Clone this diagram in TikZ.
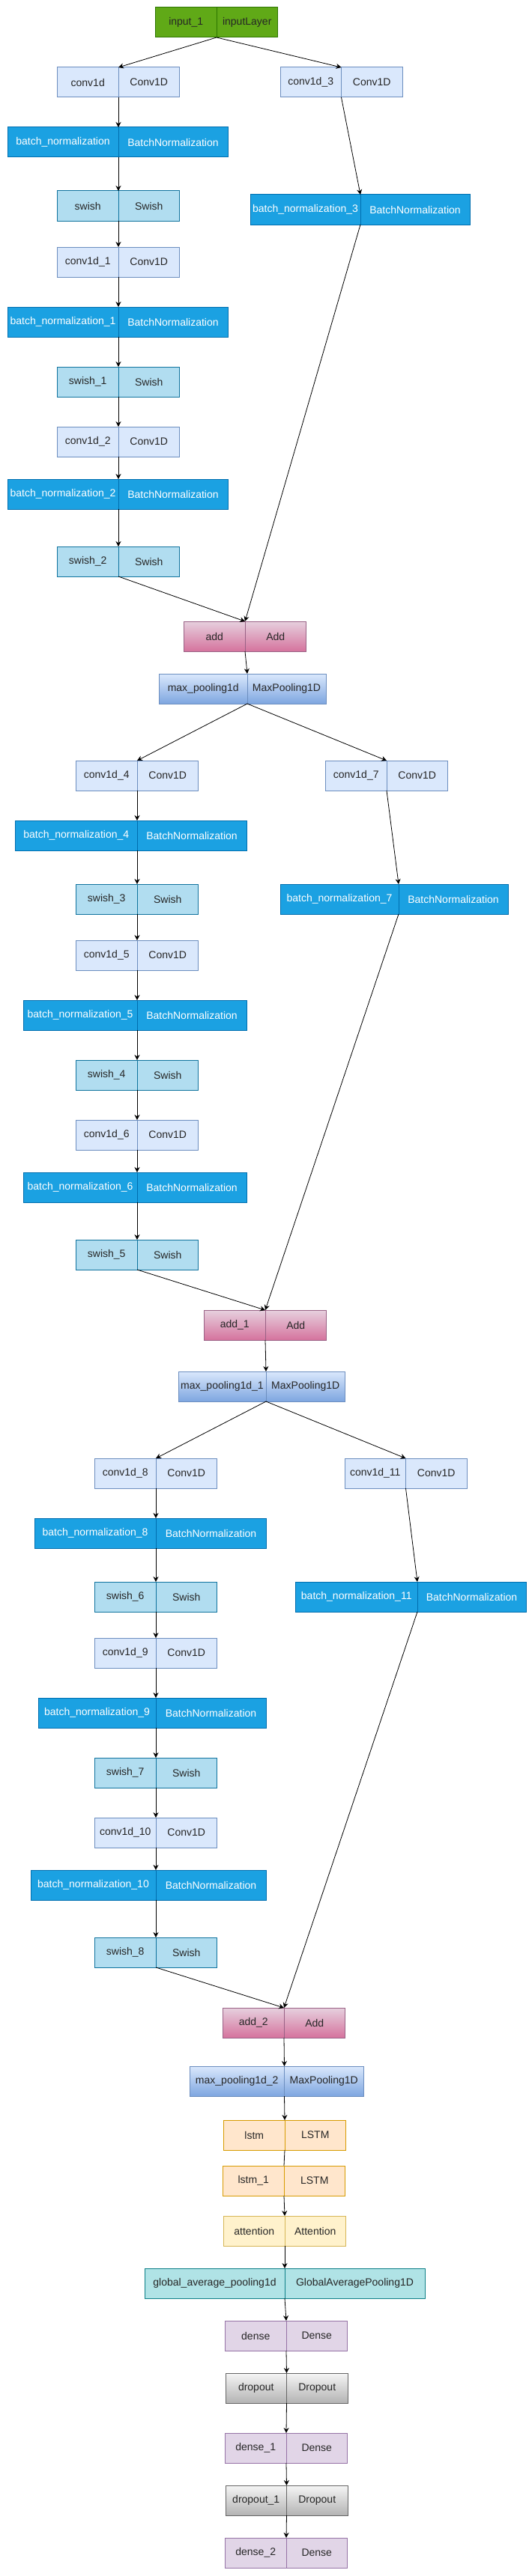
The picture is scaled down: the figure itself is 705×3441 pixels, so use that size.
\documentclass[tikz,border=0pt]{standalone}
\usepackage{fontspec}
\setmainfont{Liberation Sans}
\usetikzlibrary{arrows.meta}
\definecolor{inputfill}{HTML}{60A917}
\definecolor{inputline}{HTML}{2D7600}
\definecolor{convfill}{HTML}{DAE8FC}
\definecolor{convline}{HTML}{6C8EBF}
\definecolor{bnfill}{HTML}{1BA1E2}
\definecolor{bnline}{HTML}{006EAF}
\definecolor{swishfill}{HTML}{B1DDF0}
\definecolor{swishline}{HTML}{10739E}
\definecolor{addtop}{HTML}{E6D0DE}
\definecolor{addbottom}{HTML}{D5739D}
\definecolor{addline}{HTML}{996185}
\definecolor{pooltop}{HTML}{DAE8FC}
\definecolor{poolbottom}{HTML}{7EA6E0}
\definecolor{lstmfill}{HTML}{FFE6CC}
\definecolor{lstmline}{HTML}{D79B00}
\definecolor{attfill}{HTML}{FFF2CC}
\definecolor{attline}{HTML}{D6B656}
\definecolor{gapfill}{HTML}{B0E3E6}
\definecolor{gapline}{HTML}{0E8088}
\definecolor{densefill}{HTML}{E1D5E7}
\definecolor{denseline}{HTML}{9673A6}
\definecolor{droptop}{HTML}{F5F5F5}
\definecolor{dropbottom}{HTML}{B3B3B3}
\definecolor{dropline}{HTML}{666666}

\begin{document}
\begin{tikzpicture}[x=1pt, y=-1pt, font=\fontsize{14}{16}\selectfont,
    box/.style={draw, line width=1pt, minimum height=40pt, inner sep=0pt, outer sep=0pt, text=black!85},
    half/.style={minimum width=81.5pt},
    inputbox/.style={box, half, fill=inputfill, draw=inputline},
    convbox/.style={box, half, fill=convfill, draw=convline},
    bnbox/.style={box, fill=bnfill, draw=bnline, text=white},
    swishbox/.style={box, half, fill=swishfill, draw=swishline},
    addbox/.style={box, half, top color=addtop, bottom color=addbottom, draw=addline},
    poolbox/.style={box, top color=pooltop, bottom color=poolbottom, draw=convline},
    lstmbox/.style={box, half, fill=lstmfill, draw=lstmline},
    attbox/.style={box, half, fill=attfill, draw=attline},
    gapbox/.style={box, minimum width=187pt, fill=gapfill, draw=gapline},
    densebox/.style={box, half, fill=densefill, draw=denseline},
    dropbox/.style={box, half, top color=droptop, bottom color=dropbottom, draw=dropline},
    arr/.style={-{Stealth[length=7pt, width=7pt]}, line width=0.8pt}]
    \useasboundingbox (0,0) rectangle (705,3441);

    % Input
    \node[inputbox, anchor=east] (input1) at (289,30) {input\_1};
    \node[inputbox, anchor=west] (input1-t) at (input1.east) {inputLayer};

    % First block
    \node[convbox, anchor=east] (conv1d) at (158,110) {conv1d};
    \node[convbox, anchor=west] (conv1d-t) at (conv1d.east) {Conv1D};
    \node[convbox, anchor=east] (conv1d3) at (455.5,110) {conv1d\_3};
    \node[convbox, anchor=west] (conv1d3-t) at (conv1d3.east) {Conv1D};
    \node[bnbox, minimum width=148pt, anchor=east] (bn) at (158,190) {batch\_normalization};
    \node[bnbox, minimum width=146pt, anchor=west] (bn-t) at (bn.east) {BatchNormalization};
    \node[swishbox, anchor=east] (swish) at (158,275) {swish};
    \node[swishbox, anchor=west] (swish-t) at (swish.east) {Swish};
    \node[bnbox, minimum width=147pt, anchor=east] (bn3) at (481,280) {batch\_normalization\_3};
    \node[bnbox, minimum width=146pt, anchor=west] (bn3-t) at (bn3.east) {BatchNormalization};
    \node[convbox, anchor=east] (conv1d1) at (158,350) {conv1d\_1};
    \node[convbox, anchor=west] (conv1d1-t) at (conv1d1.east) {Conv1D};
    \node[bnbox, minimum width=148pt, anchor=east] (bn1) at (158,430) {batch\_normalization\_1};
    \node[bnbox, minimum width=146pt, anchor=west] (bn1-t) at (bn1.east) {BatchNormalization};
    \node[swishbox, anchor=east] (swish1) at (158,510) {swish\_1};
    \node[swishbox, anchor=west] (swish1-t) at (swish1.east) {Swish};
    \node[convbox, anchor=east] (conv1d2) at (158,590) {conv1d\_2};
    \node[convbox, anchor=west] (conv1d2-t) at (conv1d2.east) {Conv1D};
    \node[bnbox, minimum width=148pt, anchor=east] (bn2) at (158,660) {batch\_normalization\_2};
    \node[bnbox, minimum width=146pt, anchor=west] (bn2-t) at (bn2.east) {BatchNormalization};
    \node[swishbox, anchor=east] (swish2) at (158,750) {swish\_2};
    \node[swishbox, anchor=west] (swish2-t) at (swish2.east) {Swish};
    \node[addbox, anchor=east] (add) at (327,850) {add};
    \node[addbox, anchor=west] (add-t) at (add.east) {Add};
    \node[poolbox, minimum width=117.5pt, anchor=east] (pool) at (330,920) {max\_pooling1d};
    \node[poolbox, minimum width=105pt, anchor=west] (pool-t) at (pool.east) {MaxPooling1D};

    % Second block
    \node[convbox, anchor=east] (conv1d4) at (183,1036) {conv1d\_4};
    \node[convbox, anchor=west] (conv1d4-t) at (conv1d4.east) {Conv1D};
    \node[convbox, anchor=east] (conv1d7) at (516,1036) {conv1d\_7};
    \node[convbox, anchor=west] (conv1d7-t) at (conv1d7.east) {Conv1D};
    \node[bnbox, minimum width=162.5pt, anchor=east] (bn4) at (183,1116) {batch\_normalization\_4};
    \node[bnbox, minimum width=146pt, anchor=west] (bn4-t) at (bn4.east) {BatchNormalization};
    \node[swishbox, anchor=east] (swish3) at (183,1201) {swish\_3};
    \node[swishbox, anchor=west] (swish3-t) at (swish3.east) {Swish};
    \node[bnbox, minimum width=158pt, anchor=east] (bn7) at (532,1201) {batch\_normalization\_7};
    \node[bnbox, minimum width=146pt, anchor=west] (bn7-t) at (bn7.east) {BatchNormalization};
    \node[convbox, anchor=east] (conv1d5) at (183,1276) {conv1d\_5};
    \node[convbox, anchor=west] (conv1d5-t) at (conv1d5.east) {Conv1D};
    \node[bnbox, minimum width=152pt, anchor=east] (bn5) at (183,1356) {batch\_normalization\_5};
    \node[bnbox, minimum width=146pt, anchor=west] (bn5-t) at (bn5.east) {BatchNormalization};
    \node[swishbox, anchor=east] (swish4) at (183,1436) {swish\_4};
    \node[swishbox, anchor=west] (swish4-t) at (swish4.east) {Swish};
    \node[convbox, anchor=east] (conv1d6) at (183,1516) {conv1d\_6};
    \node[convbox, anchor=west] (conv1d6-t) at (conv1d6.east) {Conv1D};
    \node[bnbox, minimum width=152pt, anchor=east] (bn6) at (183,1586) {batch\_normalization\_6};
    \node[bnbox, minimum width=146pt, anchor=west] (bn6-t) at (bn6.east) {BatchNormalization};
    \node[swishbox, anchor=east] (swish5) at (183,1676) {swish\_5};
    \node[swishbox, anchor=west] (swish5-t) at (swish5.east) {Swish};
    \node[addbox, anchor=east] (add1) at (354,1770) {add\_1};
    \node[addbox, anchor=west] (add1-t) at (add1.east) {Add};
    \node[poolbox, minimum width=117pt, anchor=east] (pool1) at (355,1852) {max\_pooling1d\_1};
    \node[poolbox, minimum width=105.5pt, anchor=west] (pool1-t) at (pool1.east) {MaxPooling1D};

    % Third block
    \node[convbox, anchor=east] (conv1d8) at (208,1968) {conv1d\_8};
    \node[convbox, anchor=west] (conv1d8-t) at (conv1d8.east) {Conv1D};
    \node[convbox, anchor=east] (conv1d11) at (541.5,1968) {conv1d\_11};
    \node[convbox, anchor=west] (conv1d11-t) at (conv1d11.east) {Conv1D};
    \node[bnbox, minimum width=162pt, anchor=east] (bn8) at (208,2048) {batch\_normalization\_8};
    \node[bnbox, minimum width=147pt, anchor=west] (bn8-t) at (bn8.east) {BatchNormalization};
    \node[swishbox, anchor=east] (swish6) at (208,2133) {swish\_6};
    \node[swishbox, anchor=west] (swish6-t) at (swish6.east) {Swish};
    \node[bnbox, minimum width=162.5pt, anchor=east] (bn11) at (557,2133) {batch\_normalization\_11};
    \node[bnbox, minimum width=145pt, anchor=west] (bn11-t) at (bn11.east) {BatchNormalization};
    \node[convbox, anchor=east] (conv1d9) at (208,2208) {conv1d\_9};
    \node[convbox, anchor=west] (conv1d9-t) at (conv1d9.east) {Conv1D};
    \node[bnbox, minimum width=157pt, anchor=east] (bn9) at (208,2288) {batch\_normalization\_9};
    \node[bnbox, minimum width=147pt, anchor=west] (bn9-t) at (bn9.east) {BatchNormalization};
    \node[swishbox, anchor=east] (swish7) at (208,2368) {swish\_7};
    \node[swishbox, anchor=west] (swish7-t) at (swish7.east) {Swish};
    \node[convbox, anchor=east] (conv1d10) at (208,2448) {conv1d\_10};
    \node[convbox, anchor=west] (conv1d10-t) at (conv1d10.east) {Conv1D};
    \node[bnbox, minimum width=167pt, anchor=east] (bn10) at (208,2518) {batch\_normalization\_10};
    \node[bnbox, minimum width=147pt, anchor=west] (bn10-t) at (bn10.east) {BatchNormalization};
    \node[swishbox, anchor=east] (swish8) at (208,2608) {swish\_8};
    \node[swishbox, anchor=west] (swish8-t) at (swish8.east) {Swish};
    \node[addbox, anchor=east] (add2) at (379,2702) {add\_2};
    \node[addbox, anchor=west] (add2-t) at (add2.east) {Add};
    \node[poolbox, minimum width=126.5pt, anchor=east] (pool2) at (379.5,2780) {max\_pooling1d\_2};
    \node[poolbox, minimum width=105.5pt, anchor=west] (pool2-t) at (pool2.east) {MaxPooling1D};

    % Head
    \node[lstmbox, anchor=east] (lstm) at (380,2852) {lstm};
    \node[lstmbox, anchor=west] (lstm-t) at (lstm.east) {LSTM};
    \node[lstmbox, anchor=east] (lstm1) at (379,2913) {lstm\_1};
    \node[lstmbox, anchor=west] (lstm1-t) at (lstm1.east) {LSTM};
    \node[attbox, anchor=east] (att) at (380,2980) {attention};
    \node[attbox, anchor=west] (att-t) at (att.east) {Attention};
    \node[gapbox, anchor=east] (gap) at (380,3050) {global\_average\_pooling1d};
    \node[gapbox, anchor=west] (gap-t) at (gap.east) {GlobalAveragePooling1D};
    \node[densebox, anchor=east] (dense) at (382,3120) {dense};
    \node[densebox, anchor=west] (dense-t) at (dense.east) {Dense};
    \node[dropbox, anchor=east] (drop) at (382.5,3190) {dropout};
    \node[dropbox, anchor=west] (drop-t) at (drop.east) {Dropout};
    \node[densebox, anchor=east] (dense1) at (382,3270) {dense\_1};
    \node[densebox, anchor=west] (dense1-t) at (dense1.east) {Dense};
    \node[dropbox, anchor=east] (drop1) at (382.5,3340) {dropout\_1};
    \node[dropbox, anchor=west] (drop1-t) at (drop1.east) {Dropout};
    \node[densebox, anchor=east] (dense2) at (382,3410) {dense\_2};
    \node[densebox, anchor=west] (dense2-t) at (dense2.east) {Dense};

    % Connections
    \draw[arr] (input1.south east) -- (conv1d.north east);
    \draw[arr] (input1.south east) -- (conv1d3.north east);
    \draw[arr] (conv1d.south east) -- (bn.north east);
    \draw[arr] (bn.south east) -- (swish.north east);
    \draw[arr] (swish.south east) -- (conv1d1.north east);
    \draw[arr] (conv1d1.south east) -- (bn1.north east);
    \draw[arr] (bn1.south east) -- (swish1.north east);
    \draw[arr] (swish1.south east) -- (conv1d2.north east);
    \draw[arr] (conv1d2.south east) -- (bn2.north east);
    \draw[arr] (bn2.south east) -- (swish2.north east);
    \draw[arr] (swish2.south east) -- (add.north east);
    \draw[arr] (conv1d3.south east) -- (bn3.north east);
    \draw[arr] (bn3.south east) -- (add.north east);
    \draw[arr] (add.south east) -- (pool.north east);

    \draw[arr] (pool.south east) -- (conv1d4.north east);
    \draw[arr] (pool.south east) -- (conv1d7.north east);
    \draw[arr] (conv1d4.south east) -- (bn4.north east);
    \draw[arr] (bn4.south east) -- (swish3.north east);
    \draw[arr] (swish3.south east) -- (conv1d5.north east);
    \draw[arr] (conv1d5.south east) -- (bn5.north east);
    \draw[arr] (bn5.south east) -- (swish4.north east);
    \draw[arr] (swish4.south east) -- (conv1d6.north east);
    \draw[arr] (conv1d6.south east) -- (bn6.north east);
    \draw[arr] (bn6.south east) -- (swish5.north east);
    \draw[arr] (swish5.south east) -- (add1.north east);
    \draw[arr] (conv1d7.south east) -- (bn7.north east);
    \draw[arr] (bn7.south east) -- (add1.north east);
    \draw[arr] (add1.south east) -- (pool1.north east);

    \draw[arr] (pool1.south east) -- (conv1d8.north east);
    \draw[arr] (pool1.south east) -- (conv1d11.north east);
    \draw[arr] (conv1d8.south east) -- (bn8.north east);
    \draw[arr] (bn8.south east) -- (swish6.north east);
    \draw[arr] (swish6.south east) -- (conv1d9.north east);
    \draw[arr] (conv1d9.south east) -- (bn9.north east);
    \draw[arr] (bn9.south east) -- (swish7.north east);
    \draw[arr] (swish7.south east) -- (conv1d10.north east);
    \draw[arr] (conv1d10.south east) -- (bn10.north east);
    \draw[arr] (bn10.south east) -- (swish8.north east);
    \draw[arr] (swish8.south east) -- (add2.north east);
    \draw[arr] (conv1d11.south east) -- (bn11.north east);
    \draw[arr] (bn11.south east) -- (add2.north east);
    \draw[arr] (add2.south east) -- (pool2.north east);

    \draw[arr] (pool2.south east) -- (lstm.north east);
    \draw[line width=0.8pt] (lstm.south east) -- (lstm1.north east);
    \draw[arr] (lstm1.south east) -- (att.north east);
    \draw[arr] (att.south east) -- (gap.north east);
    \draw[arr] (gap.south east) -- (dense.north east);
    \draw[arr] (dense.south east) -- (drop.north east);
    \draw[arr] (drop.south east) -- (dense1.north east);
    \draw[arr] (dense1.south east) -- (drop1.north east);
    \draw[arr] (drop1.south east) -- (dense2.north east);
\end{tikzpicture}
\end{document}
